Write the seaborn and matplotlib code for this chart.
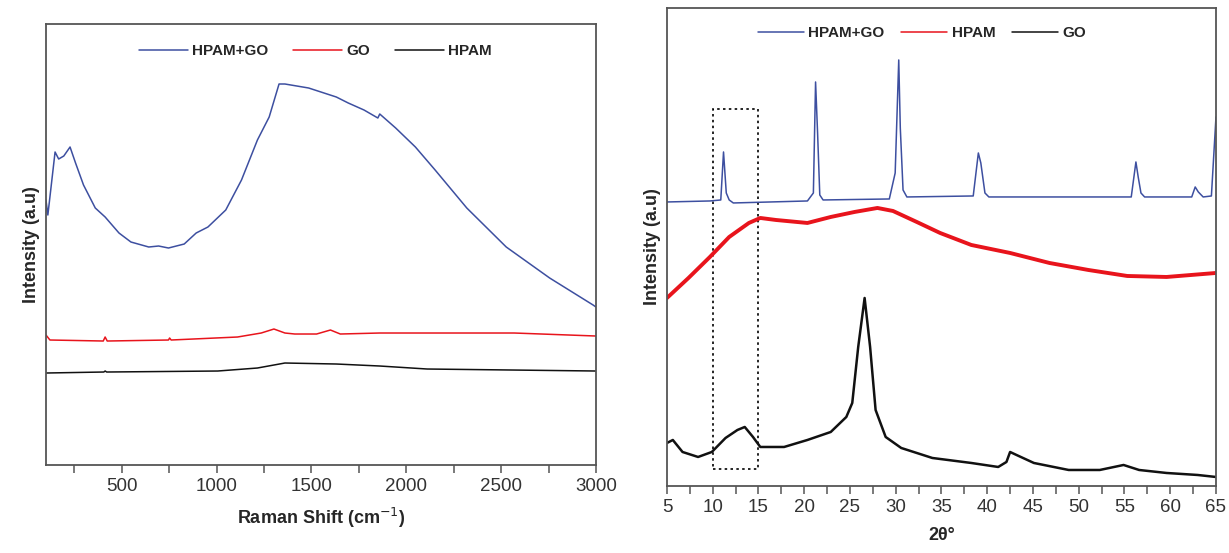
import pandas as pd
import matplotlib
matplotlib.use('agg')
import matplotlib.pyplot as plt
from matplotlib.patches import Rectangle
from matplotlib.ticker import MultipleLocator
import seaborn as sns

# Raman spectra (left panel), intensity in arbitrary units
raman_blue_x = [100, 110, 148, 167, 194, 227, 256, 298, 360, 412, 485, 548, 642, 694, 746, 829,
                892, 954, 1048, 1131, 1215, 1277, 1329, 1360, 1485, 1631, 1694, 1777, 1850, 1860,
                1944, 2048, 2152, 2319, 2527, 2756, 2985, 3000]
raman_blue_y = [265, 250, 313, 306, 309, 318, 302, 280, 257, 248, 232, 223, 218, 219, 217, 221,
                232, 238, 255, 285, 325, 348, 381, 381, 377, 368, 362, 355, 347, 351,
                337, 318, 295, 257, 218, 187, 160, 158]
raman_red_x = [100, 121, 402, 412, 423, 746, 752, 760, 1110, 1235, 1302, 1360, 1412, 1527, 1600,
               1652, 1860, 2569, 3000]
raman_red_y = [130, 125, 124, 128, 124, 125, 127, 125, 128, 132, 136, 132, 131, 131, 135,
               131, 132, 132, 129]
raman_black_x = [100, 405, 412, 420, 1006, 1215, 1360, 1631, 1860, 2110, 3000]
raman_black_y = [92, 93, 94, 93, 94, 97, 102, 101, 99, 96, 94]

# XRD patterns (right panel)
xrd_blue_x = [5.0, 9.69, 10.88, 11.18, 11.48, 11.8, 12.25, 20.35, 21.0, 21.24, 21.46, 21.7, 22.06,
              29.3, 29.94, 30.33, 30.5, 30.8, 31.22, 38.47, 39.03, 39.3, 39.75, 40.18, 55.74,
              56.25, 56.5, 56.8, 57.2, 62.35, 62.73, 63.07, 63.6, 64.5, 64.9, 65.0]
xrd_blue_y = [284, 285, 286, 334, 293, 286, 283, 285, 293, 404, 353, 291, 286,
              287, 313, 426, 358, 296, 289, 290, 333, 323, 293, 289, 289,
              324, 309, 293, 289, 289, 299, 294, 289, 290, 353, 369]
xrd_red_x = [5.0, 7.35, 9.69, 11.8, 13.95, 15.2, 16.9, 20.35, 22.9, 25.5, 28.0, 29.7, 32.3,
             34.85, 38.26, 42.5, 46.8, 51.05, 55.3, 59.6, 65.0]
xrd_red_y = [188, 208, 229, 249, 263, 268, 266, 263, 269, 274, 278, 275, 264,
             253, 241, 233, 223, 216, 210, 209, 213]
xrd_black_x = [5.0, 5.64, 6.7, 8.4, 9.9, 11.4, 12.7, 13.5, 14.4, 15.2, 17.8, 20.35, 22.9, 24.6,
               25.25, 25.9, 26.6, 27.2, 27.8, 28.9, 30.6, 34.0, 38.26, 41.2, 42.1, 42.5, 43.2,
               45.1, 48.9, 52.3, 54.9, 56.6, 59.6, 63.0, 65.0]
xrd_black_y = [43, 46, 34, 29, 34, 48, 56, 59, 49, 39, 39, 46, 54, 69,
               83, 139, 188, 139, 76, 49, 38, 28, 23, 19, 24, 34, 31,
               23, 16, 16, 21, 16, 13, 11, 9]

BLUE = '#3d4fa0'
RED = '#e8141c'
BLACK = '#111111'


def draw(ax, x, y, color, label, lw):
    df = pd.DataFrame({'x': x, 'y': y})
    sns.lineplot(data=df, x='x', y='y', ax=ax, color=color, label=label,
                 linewidth=lw, estimator=None, sort=False)


def style(ax, xlabel):
    ax.set_ylabel('Intensity (a.u)', fontsize=13, fontweight='bold')
    ax.set_xlabel(xlabel, fontsize=13, fontweight='bold', labelpad=8)
    ax.set_yticks([])
    for s in ax.spines.values():
        s.set_color('#555555')
        s.set_linewidth(1.3)
    ax.tick_params(axis='x', which='both', bottom=True, direction='out', length=6, width=1.1,
                   color='#555555', labelsize=13.5, labelcolor='#333333')


def legend(ax, anchor, spacing, hlen):
    leg = ax.legend(loc='upper center', ncol=3, frameon=False,
                    prop={'weight': 'bold', 'size': 11}, handlelength=hlen,
                    handletextpad=0.3, columnspacing=spacing, bbox_to_anchor=anchor)
    for h in leg.get_lines():
        h.set_linewidth(1.1)


def main():
    sns.set_style('white')
    plt.rcParams['font.family'] = ['Liberation Sans', 'DejaVu Sans']

    fig = plt.figure(figsize=(12.29, 5.53), dpi=100)
    ax1 = fig.add_axes([0.0374, 0.1591, 0.4475, 0.7975])
    ax2 = fig.add_axes([0.5427, 0.1212, 0.4467, 0.8644])

    draw(ax1, raman_blue_x, raman_blue_y, BLUE, 'HPAM+GO', 1.1)
    draw(ax1, raman_red_x, raman_red_y, RED, 'GO', 1.1)
    draw(ax1, raman_black_x, raman_black_y, BLACK, 'HPAM', 1.1)
    ax1.set_xlim(100, 3000)
    ax1.set_ylim(0, 441)
    ax1.xaxis.set_major_locator(MultipleLocator(500))
    ax1.xaxis.set_minor_locator(MultipleLocator(250))
    style(ax1, 'Raman Shift (cm$^{-1}$)')
    legend(ax1, (0.49, 0.985), 1.6, 3.2)

    draw(ax2, xrd_blue_x, xrd_blue_y, BLUE, 'HPAM+GO', 1.1)
    draw(ax2, xrd_red_x, xrd_red_y, RED, 'HPAM', 2.8)
    draw(ax2, xrd_black_x, xrd_black_y, BLACK, 'GO', 1.8)
    ax2.add_patch(Rectangle((10, 17), 5, 360, fill=False, linestyle=(0, (1.5, 2)),
                            edgecolor='black', linewidth=1.2))
    ax2.set_xlim(5, 65)
    ax2.set_ylim(0, 478)
    ax2.xaxis.set_major_locator(MultipleLocator(5))
    ax2.xaxis.set_minor_locator(MultipleLocator(2.5))
    style(ax2, '2θ°')
    legend(ax2, (0.465, 0.99), 1.1, 3.0)

    fig.savefig('out.png', dpi=100)
    plt.close('all')


if __name__ == '__main__':
    main()
